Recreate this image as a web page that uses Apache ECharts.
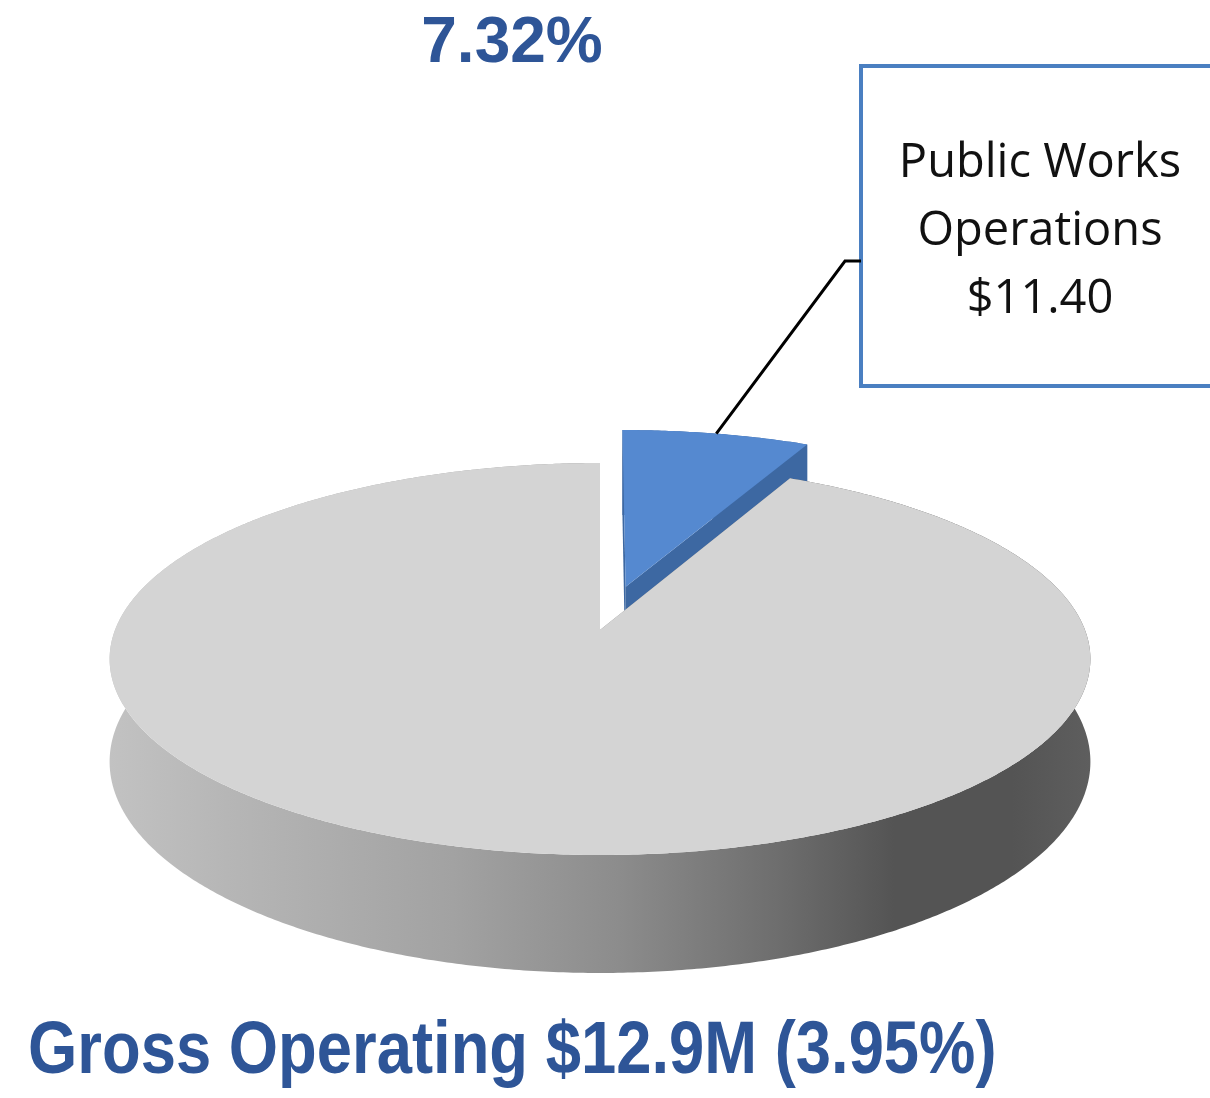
<!DOCTYPE html>
<html>
<head>
<meta charset="utf-8">
<script src="https://cdn.jsdelivr.net/npm/echarts@6/dist/echarts.min.js"></script>
<style>
  html, body { margin: 0; padding: 0; background: #ffffff; }
  #chart { width: 1210px; height: 1098px; }
</style>
</head>
<body>
<div id="chart"></div>
<script>
// Budget share of Public Works Operations within the operating total
const categories = ['Public Works Operations', 'All Other Operations'];
const shares = [7.32, 92.68];                 // percent of total
const calloutLines = ['Public Works', 'Operations', '$11.40'];
const headline = '7.32%';
const footline = 'Gross Operating $12.9M (3.95%)';

// 3D pie look: perspective projection of a tilted disc
const P = { cx: 600, cy: 630, R: 485, S: 191.7, k: 0.148, D: 100.5 };
const explodeBy = [0.24, 0];
const topColors = ['#5589d0', '#d4d4d4'];
const sideColors = ['#3d68a2', null];

const total = shares.reduce((a, b) => a + b, 0);
const cumulative = [0];
shares.forEach((s, i) => cumulative.push(cumulative[i] + s));

const chart = echarts.init(document.getElementById('chart'), null, { renderer: 'canvas' });

function renderSlice(params, api) {
  const i = params.dataIndex;
  const a0 = cumulative[i] / total * Math.PI * 2;
  const a1 = cumulative[i + 1] / total * Math.PI * 2;
  const mid = (a0 + a1) / 2;
  const e = explodeBy[i];
  const ou = e * Math.sin(mid), ov = -e * Math.cos(mid);

  // disc point (u, v) at height h (0 = top face, 1 = bottom face)
  function proj(u, v, h) {
    const w = 1 / (1 - P.k * v);
    return api.coord([P.cx + P.R * u * w, P.cy + P.S * v * w + P.D * h * w]);
  }
  function rim(a, h) { return proj(Math.sin(a) + ou, -Math.cos(a) + ov, h); }
  function apex(h) { return proj(ou, ov, h); }

  const n = Math.max(6, Math.ceil((a1 - a0) / (Math.PI / 360)));
  const topArc = [], botArc = [];
  for (let j = 0; j <= n; j++) {
    const a = a0 + (a1 - a0) * j / n;
    topArc.push(rim(a, 0));
    botArc.push(rim(a, 1));
  }

  const wallFill = sideColors[i] || new echarts.graphic.LinearGradient(0, 0, 1, 0, [
    { offset: 0.00, color: '#c2c2c2' },
    { offset: 0.12, color: '#b6b6b6' },
    { offset: 0.35, color: '#a2a2a2' },
    { offset: 0.52, color: '#8c8c8c' },
    { offset: 0.68, color: '#6e6e6e' },
    { offset: 0.80, color: '#545454' },
    { offset: 0.92, color: '#545454' },
    { offset: 1.00, color: '#5e5e5e' }
  ]);
  const faceFill = sideColors[i] || '#8a8a8a';

  const children = [];
  children.push({
    type: 'polygon',
    shape: { points: topArc.concat(botArc.slice().reverse()) },
    style: { fill: wallFill }
  });
  [a0, a1].forEach(a => {
    children.push({
      type: 'polygon',
      shape: { points: [apex(0), rim(a, 0), rim(a, 1), apex(1)] },
      style: { fill: faceFill }
    });
  });
  children.push({
    type: 'polygon',
    shape: { points: [apex(0)].concat(topArc) },
    style: { fill: topColors[i] }
  });

  // leader line from the highlighted slice to its callout
  if (i === 0) {
    const anchor = rim(mid, 0);
    children.push({
      type: 'polyline',
      shape: { points: [anchor, [845, 261], [861, 261]] },
      style: { stroke: '#000000', lineWidth: 3, fill: null }
    });
  }
  return { type: 'group', children: children };
}

const option = {
  animation: false,
  backgroundColor: '#ffffff',
  grid: { left: 0, right: 0, top: 0, bottom: 0, containLabel: false },
  xAxis: { type: 'value', min: 0, max: 1210, show: false },
  yAxis: { type: 'value', min: 0, max: 1098, inverse: true, show: false },
  series: [{
    type: 'custom',
    coordinateSystem: 'cartesian2d',
    clip: false,
    silent: true,
    data: shares.map((s, i) => ({ name: categories[i], value: [i, s] })),
    encode: { x: 0, y: 1 },
    renderItem: renderSlice
  }],
  graphic: [
    {
      type: 'text', x: 512, y: 44,
      style: {
        text: headline, fill: '#2e5597',
        font: 'bold 64px "Liberation Sans", Arial, sans-serif',
        textAlign: 'center', textVerticalAlign: 'middle'
      }
    },
    {
      type: 'text', x: 28, y: 1052, scaleX: 0.845,
      style: {
        text: footline, fill: '#2e5597',
        font: 'bold 75px "Liberation Sans", Arial, sans-serif',
        textAlign: 'left', textVerticalAlign: 'middle'
      }
    },
    {
      type: 'rect',
      shape: { x: 861, y: 66, width: 400, height: 320 },
      style: { fill: '#ffffff', stroke: '#4a7fc1', lineWidth: 4 }
    },
    {
      type: 'text', x: 1040, y: 232,
      style: {
        text: calloutLines.join('\n'), fill: '#111111',
        font: '47px "Open Sans", sans-serif', lineHeight: 68,
        textAlign: 'center', textVerticalAlign: 'middle'
      }
    }
  ]
};
chart.setOption(option);
</script>
</body>
</html>
